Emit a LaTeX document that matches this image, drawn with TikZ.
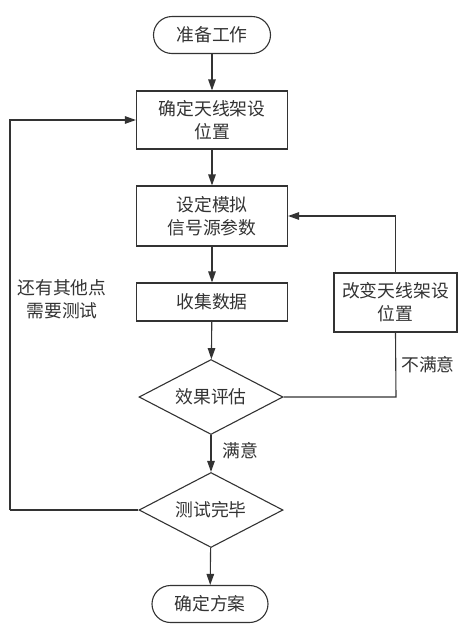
\documentclass[tikz,border=0pt]{standalone}
\usepackage{fontspec}
\newfontfamily\cjk{Noto Sans CJK SC}
\usetikzlibrary{arrows.meta,shapes.geometric}
\definecolor{ink}{HTML}{333333}
\begin{document}
\begin{tikzpicture}[x=1pt,y=-1pt,
  every node/.style={font=\cjk\fontsize{17.8}{23}\selectfont, text=ink},
  line/.style={draw=ink, line width=1.1pt},
  arr/.style={line, -{Triangle[length=11pt,width=7.5pt]}},
  term/.style={draw=ink, line width=1.1pt, rectangle, rounded corners=18.5pt, minimum width=117pt, minimum height=37pt, inner sep=0pt},
  procbox/.style={draw=ink, line width=1.1pt, rectangle, minimum width=151pt, inner sep=0pt, align=center},
  decision/.style={draw=ink, line width=1.1pt, diamond, aspect=2, minimum width=144pt, minimum height=75pt, inner sep=0pt}]
\useasboundingbox (0,0) rectangle (464,630);
\node[term] (start) at (212,35) {准备工作};
\node[procbox, minimum height=58pt] (b1) at (212,120) {确定天线架设\\位置};
\node[procbox, minimum height=60pt] (b2) at (212,216) {设定模拟\\信号源参数};
\node[procbox, minimum height=38pt] (b3) at (212,302) {收集数据};
\node[decision] (d1) at (211,397) {效果评估};
\node[decision] (d2) at (211,510) {测试完毕};
\node[term, minimum width=116pt] (end) at (210,604) {确定方案};
\node[procbox, minimum width=123pt, minimum height=59pt] (rb) at (395.5,302.5) {改变天线架设\\位置};
\node (lsat) at (240,451) {满意};
\node (lunsat) at (428,365) {不满意};
\node[align=center] (lmore) at (62,299) {还有其他点\\需要测试};
\coordinate (cr) at (396,397);
\coordinate (cl) at (10,510);
\draw[arr] (start) -- (b1);
\draw[arr] (b1) -- (b2);
\draw[arr] (b2) -- (b3);
\draw[arr] (b3) -- (d1);
\draw[arr] (d1) -- (d2);
\draw[arr] (d2) -- (end);
\draw[line] (d1.east) -- (cr) -- (rb.south);
\draw[arr] (rb.north) |- (b2.east);
\draw[line] (d2.west) -- (cl);
\draw[arr] (cl) |- (b1.west);
\end{tikzpicture}
\end{document}
